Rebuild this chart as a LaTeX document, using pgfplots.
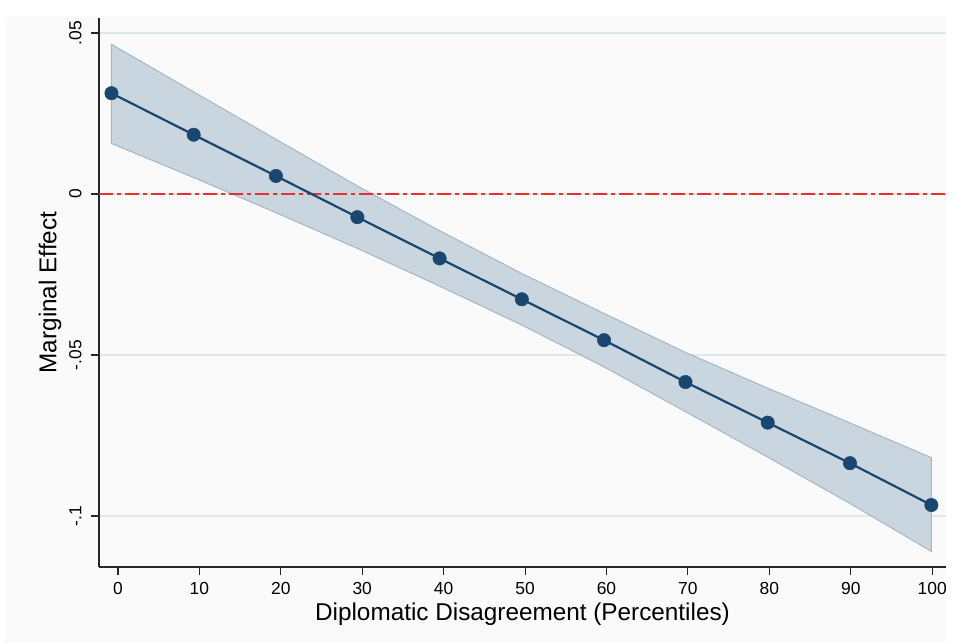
\documentclass[border=0pt]{standalone}
\usepackage{pgfplots}
\pgfplotsset{compat=1.18}
\usepackage{fontspec}
\setmainfont{Liberation Sans}
\definecolor{navy}{HTML}{1A476F}
\definecolor{bandfill}{HTML}{C9D6E0}
\definecolor{bandedge}{HTML}{A3B7C7}
\definecolor{gridc}{HTML}{DCE8EC}
\definecolor{redl}{HTML}{E8312F}
\definecolor{bgc}{HTML}{FAFAFA}
\begin{document}
\begin{tikzpicture}[x=1bp,y=1bp]
\fill[white] (0,0) rectangle (956,643);
\fill[bgc] (5,0) rectangle (946,626);
\begin{axis}[
  at={(99bp,76bp)}, anchor=south west, scale only axis,
  width=847bp, height=549bp,
  xmin=-2.33, xmax=101.7, ymin=-0.11584, ymax=0.05466,
  axis x line*=bottom, axis y line*=left,
  axis line style={-, black!85, line width=1.1bp},
  xtick={0,10,...,100},
  ytick={-0.1,-0.05,0,0.05}, yticklabels={-.1,-.05,0,.05},
  tick align=outside, major tick length=8bp,
  tick style={black!85, line width=1.1bp},
  ymajorgrids, grid style={gridc, line width=1.3bp},
  ticklabel style={font=\fontsize{17.5}{19}\selectfont},
  xticklabel style={yshift=-4bp},
  yticklabel style={xshift=-6bp, rotate=90, anchor=south},
  /pgf/number format/assume math mode=true,
  xlabel={Diplomatic Disagreement (Percentiles)},
  ylabel={Marginal Effect},
  every axis x label/.style={at={(axis description cs:0.5,0)}, anchor=center, yshift=-47bp, font=\fontsize{24.4}{26}\selectfont},
  every axis y label/.style={at={(axis description cs:0,0.5)}, anchor=center, xshift=-49bp, rotate=90, font=\fontsize{24.4}{26}\selectfont},
  clip=false,
]
% confidence band (upper forward, lower backward)
\addplot[fill=bandfill, draw=bandedge, line width=1bp] coordinates {
  (-0.8,0.0465) (9.3,0.0317) (19.4,0.0170) (29.4,0.0025) (39.5,-0.0114)
  (49.6,-0.0247) (59.7,-0.0371) (69.7,-0.0492) (79.8,-0.0603) (89.9,-0.0711) (99.9,-0.0819)
  (99.9,-0.1110) (89.9,-0.0961) (79.8,-0.0817) (69.7,-0.0676) (59.7,-0.0537)
  (49.6,-0.0407) (39.5,-0.0286) (29.4,-0.0169) (19.4,-0.0058) (9.3,0.0051) (-0.8,0.0157)
} -- cycle;
% zero reference line
\addplot[redl, line width=2bp, dash pattern=on 14bp off 4bp on 4bp off 4bp] coordinates {(-2.33,0) (101.7,0)};
% marginal effects
\addplot[navy, line width=2.2bp, mark=*, mark size=6.7bp, mark options={fill=navy, draw=navy, line width=0.5bp}] coordinates {
  (-0.8,0.0313) (9.3,0.0184) (19.4,0.0056) (29.4,-0.0072) (39.5,-0.0200)
  (49.6,-0.0327) (59.7,-0.0454) (69.7,-0.0584) (79.8,-0.0710) (89.9,-0.0836) (99.9,-0.0966)
};
\end{axis}
\end{tikzpicture}
\end{document}
